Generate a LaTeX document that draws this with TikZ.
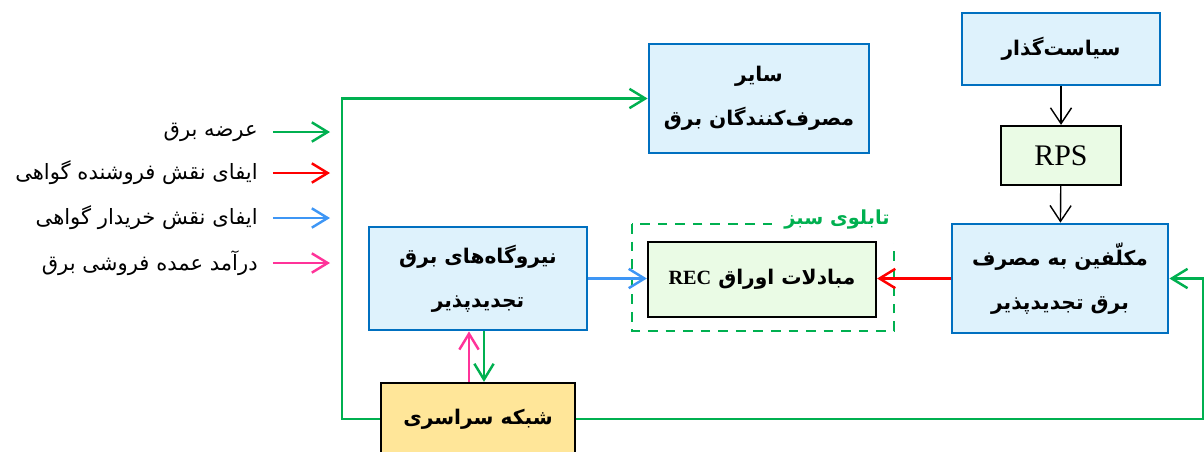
\documentclass[tikz,border=0pt]{standalone}
\usepackage{fontspec}
\usetikzlibrary{arrows.meta}
\newfontfamily\farsi[Script=Arabic]{DejaVu Sans}
\newfontfamily\timesfont{Liberation Serif}
\TeXXeTstate=1
\newcommand{\fa}[1]{\beginR #1\endR}

\definecolor{boxblue}{RGB}{0,112,192}
\definecolor{boxfill}{RGB}{222,242,252}
\definecolor{recfill}{RGB}{234,251,229}
\definecolor{gridfill}{RGB}{255,230,153}
\definecolor{flowgreen}{RGB}{0,176,80}
\definecolor{flowred}{RGB}{255,0,0}
\definecolor{flowblue}{RGB}{62,150,245}
\definecolor{flowpink}{RGB}{255,51,153}

\begin{document}
\begin{tikzpicture}[x=0.02cm, y=-0.02cm,
	bluebox/.style={draw=boxblue, fill=boxfill, line width=1.6pt, inner sep=0pt, align=center,
		font=\farsi\bfseries\fontsize{11.5}{25}\selectfont},
	blackbox/.style={draw=black, line width=1.3pt, inner sep=0pt, align=center},
	legtext/.style={anchor=east, inner sep=0pt, font=\farsi\fontsize{12}{14}\selectfont},
	flow/.style={line width=1.4pt, -{Straight Barb[length=9pt,width=11pt]}},
	thinflow/.style={line width=0.8pt, -{Straight Barb[length=9pt,width=12pt]}}]

	\useasboundingbox (0,0) rectangle (1204,451);
	\clip (0,0) rectangle (1204,451);

% legend
	\node[legtext] (lg1) at (258,132) {\fa{عرضه برق}};
	\node[legtext] (lg2) at (258,173) {\fa{ایفای نقش فروشنده گواهی}};
	\node[legtext] (lg3) at (258,218) {\fa{ایفای نقش خریدار گواهی}};
	\node[legtext] (lg4) at (258,263) {\fa{درآمد عمده فروشی برق}};
	\draw[flow, flowgreen] ([xshift=0.3cm]lg1.east) -- ++(57,0);
	\draw[flow, flowred] ([xshift=0.3cm]lg2.east) -- ++(57,0);
	\draw[flow, flowblue] ([xshift=0.3cm]lg3.east) -- ++(57,0);
	\draw[flow, flowpink] ([xshift=0.3cm]lg4.east) -- ++(57,0);

% boxes
	\node[bluebox, minimum width=3.96cm, minimum height=1.44cm] (policy) at (1061,49) {\fa{سیاست‌گذار}};
	\node[blackbox, fill=recfill, minimum width=2.4cm, minimum height=1.18cm,
		font=\timesfont\fontsize{17}{20}\selectfont] (rps) at (1061,155.5) {RPS};
	\node[bluebox, minimum width=4.32cm, minimum height=2.18cm] (obliged) at (1060,278.5)
		{\fa{مکلّفین به مصرف}\\\fa{برق تجدیدپذیر}};
	\node[bluebox, minimum width=4.4cm, minimum height=2.18cm] (others) at (759,98.5)
		{\fa{سایر}\\\fa{مصرف‌کنندگان برق}};
	\node[bluebox, minimum width=4.36cm, minimum height=2.06cm] (plants) at (478,278.5)
		{\fa{نیروگاه‌های برق}\\\fa{تجدیدپذیر}};

% green board with REC market
	\coordinate (boardtl) at (632,224);
	\coordinate (boardbr) at (894,331);
	\draw[flowgreen, line width=1.4pt, dash pattern=on 5.5pt off 4.5pt] (boardtl) rectangle (boardbr);
	\node[fill=white, minimum width=2.6cm, minimum height=0.9cm, text=flowgreen,
		font=\farsi\bfseries\fontsize{11}{13}\selectfont] (boardlabel) at (837,220) {\fa{تابلوی سبز}};
	\node[blackbox, fill=recfill, minimum width=4.56cm, minimum height=1.5cm,
		font=\farsi\bfseries\fontsize{11.5}{13}\selectfont] (rec) at (762,279.5)
		{\fa{مبادلات اوراق \beginL{\timesfont\bfseries REC}\endL}};

	\node[blackbox, fill=gridfill, minimum width=3.88cm, minimum height=1.44cm,
		font=\farsi\bfseries\fontsize{11.5}{13}\selectfont] (grid) at (478,419) {\fa{شبکه سراسری}};

% arrows
	\draw[thinflow] (policy) -- (rps);
	\draw[thinflow] (rps) -- (obliged);
	\draw[flow, flowred] (obliged.west) -- (rec.east |- obliged.west);
	\draw[flow, flowblue] (plants.east) -- (rec.west |- plants.east);
	\draw[flow, flowgreen] (grid.west) -- ++(-38,0) |- (others.west);
	\coordinate (rightturn) at (1203,419);
	\draw[flow, flowgreen] (grid.east) -- (rightturn) |- (obliged.east);
	\draw[flow, flowpink] ([xshift=-0.18cm]grid.north) -- ([xshift=-0.18cm]plants.south);
	\draw[flow, flowgreen] ([xshift=0.12cm]plants.south) -- ([xshift=0.12cm]grid.north);

\end{tikzpicture}
\end{document}
